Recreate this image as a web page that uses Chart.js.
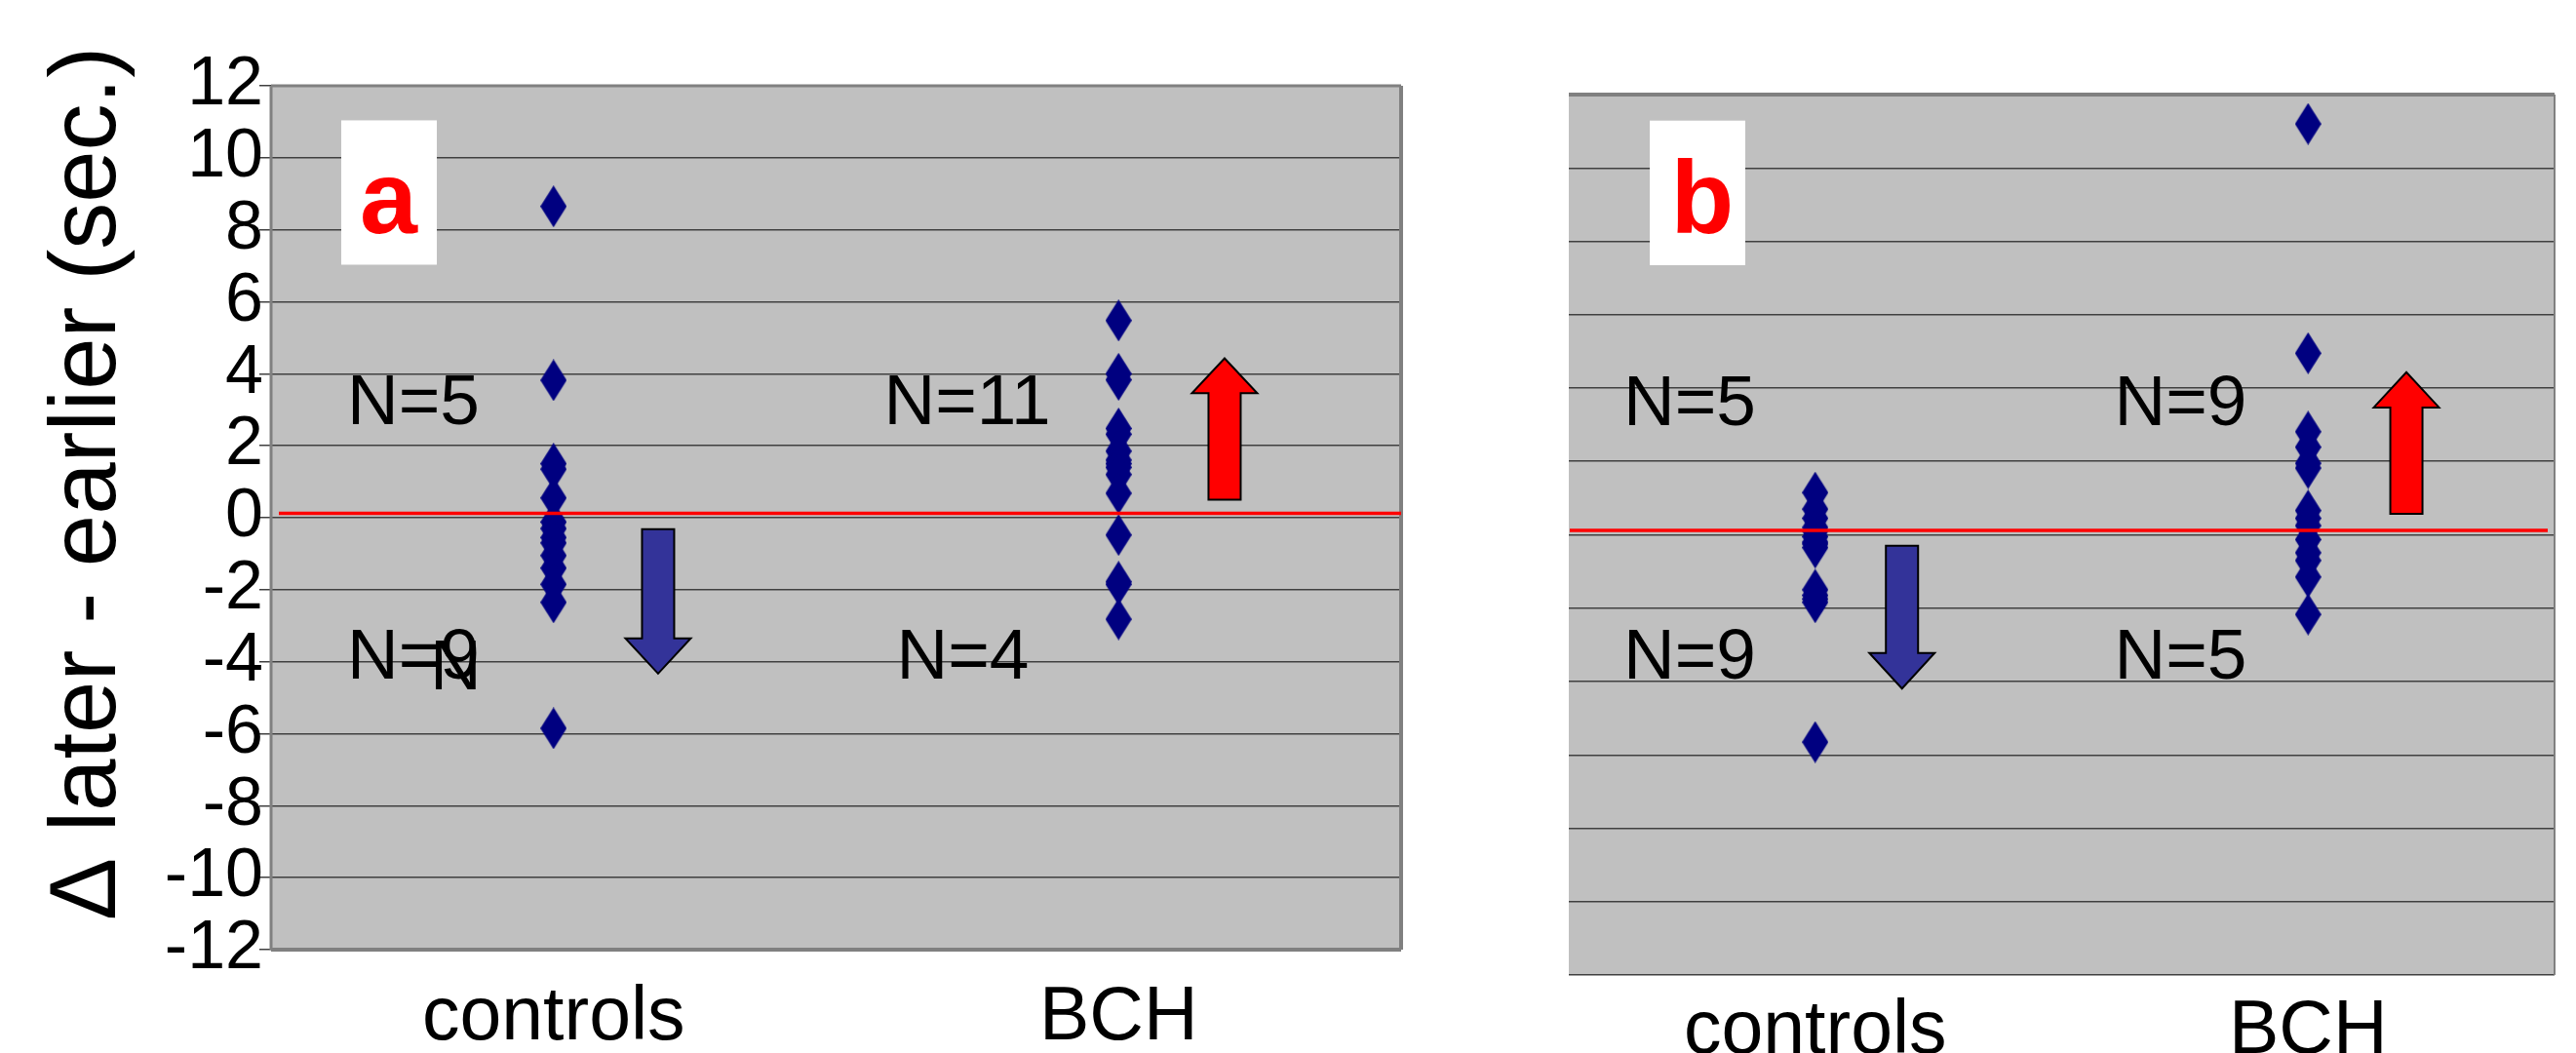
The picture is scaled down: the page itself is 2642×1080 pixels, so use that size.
<!DOCTYPE html>
<html>
<head>
<meta charset="utf-8">
<script src="https://cdn.jsdelivr.net/npm/chart.js@4.4.1/dist/chart.umd.min.js"></script>
<style>
  html, body { margin: 0; padding: 0; background: #ffffff; }
  body { width: 2642px; height: 1080px; position: relative; overflow: hidden; }
  canvas { position: absolute; top: 0; }
  #chartA { left: 0px; }
  #chartB { left: 1590px; }
</style>
</head>
<body>
<canvas id="chartA" width="1460" height="1080"></canvas>
<canvas id="chartB" width="1052" height="1080"></canvas>
<script>
// ---------------- data ----------------
const categories = ['controls', 'BCH'];
const yTickMin = -12;
const yTickMax = 12;
const yTickStep = 2;
const yAxisTitle = 'Δ later - earlier (sec.)';

// panel a
const aControls = [8.65, 3.82, 1.5, 1.35, 0.55, -0.12, -0.3, -0.55, -0.7, -1.05, -1.4, -1.85, -2.35, -5.85];
const aBCH = [5.48, 4.0, 3.83, 2.48, 2.32, 1.85, 1.6, 1.5, 1.4, 1.2, 0.68, -0.48, -1.78, -1.85, -2.82];
// panel b
const bControls = [1.15, 0.7, 0.45, 0.2, 0.1, -0.05, -0.2, -0.25, -0.35, -1.5, -1.65, -1.75, -1.84, -5.65];
const bBCH = [11.2, 4.95, 2.81, 2.39, 1.95, 1.82, 0.66, 0.45, 0.25, -0.13, -0.49, -0.7, -1.15, -2.17];

const refLineValue = 0.12;

// annotation texts
const aLabel = 'a';
const bLabel = 'b';
const aNotes = ['N=5', 'N=9', 'N', 'N=11', 'N=4'];
const bNotes = ['N=5', 'N=9', 'N=9', 'N=5'];

// ---------------- styles / layout ----------------
const FONT = '"Liberation Sans", Arial, Helvetica, sans-serif';
const PLOT_BG = '#c0c0c0';
const GRID = '#404040';
const POINT_COLOR = '#000080';

function makeDiamond(w, h, color) {
  const c = document.createElement('canvas');
  c.width = w; c.height = h;
  const g = c.getContext('2d');
  g.fillStyle = color;
  g.beginPath();
  g.moveTo(w / 2, 0); g.lineTo(w, h / 2); g.lineTo(w / 2, h); g.lineTo(0, h / 2);
  g.closePath(); g.fill();
  return c;
}
const diamond = makeDiamond(27, 43, POINT_COLOR);

function toPoints(cat, vals) { return vals.map(v => ({ x: cat, y: v })); }

const decorPlugin = {
  id: 'panelDecor',
  beforeDraw(chart, args, opts) {
    const a = chart.chartArea, ctx = chart.ctx;
    ctx.save();
    ctx.fillStyle = PLOT_BG;
    ctx.fillRect(a.left, a.top, a.right - a.left, a.bottom - a.top);
    ctx.restore();
  },
  afterDraw(chart, args, opts) {
    if (!opts.axisTitle) return;
    const ctx = chart.ctx, ys = chart.scales.y;
    const t = opts.axisTitle;
    ctx.save();
    ctx.translate(t.x, ys.getPixelForValue(t.yCenter));
    ctx.rotate(-Math.PI / 2);
    ctx.fillStyle = '#000000';
    ctx.font = t.size + 'px ' + FONT;
    ctx.textAlign = 'center';
    ctx.textBaseline = 'alphabetic';
    ctx.fillText(t.text, 0, 0);
    ctx.restore();
  },
  afterDatasetsDraw(chart, args, opts) {
    const a = chart.chartArea, ctx = chart.ctx;
    const xs = chart.scales.x, ys = chart.scales.y;
    ctx.save();
    // border
    ctx.strokeStyle = '#808080';
    (opts.borders || []).forEach(b => {
      ctx.lineWidth = b.w;
      ctx.beginPath();
      if (b.side === 'top') { ctx.moveTo(a.left, a.top); ctx.lineTo(a.right, a.top); }
      if (b.side === 'bottom') { ctx.moveTo(a.left, a.bottom); ctx.lineTo(a.right, a.bottom); }
      if (b.side === 'left') { ctx.moveTo(a.left, a.top); ctx.lineTo(a.left, a.bottom); }
      if (b.side === 'right') { ctx.moveTo(a.right, a.top); ctx.lineTo(a.right, a.bottom); }
      ctx.stroke();
    });
    // red reference line
    const ry = ys.getPixelForValue(opts.refValue);
    ctx.strokeStyle = '#ff0000';
    ctx.lineWidth = 3.5;
    ctx.beginPath();
    ctx.moveTo(a.left + opts.refInsetL, ry);
    ctx.lineTo(a.right - opts.refInsetR, ry);
    ctx.stroke();
    // arrows
    opts.arrows.forEach(ar => {
      const cx = xs.getPixelForDecimal(ar.fx);
      const y0 = ys.getPixelForValue(ar.from);
      const yb = ys.getPixelForValue(ar.base);
      const yt = ys.getPixelForValue(ar.tip);
      const sw = ar.shaft / 2, hw = ar.head / 2;
      ctx.beginPath();
      ctx.moveTo(cx - sw, y0);
      ctx.lineTo(cx + sw, y0);
      ctx.lineTo(cx + sw, yb);
      ctx.lineTo(cx + hw, yb);
      ctx.lineTo(cx, yt);
      ctx.lineTo(cx - hw, yb);
      ctx.lineTo(cx - sw, yb);
      ctx.closePath();
      ctx.fillStyle = ar.color;
      ctx.fill();
      ctx.strokeStyle = '#000000';
      ctx.lineWidth = 2;
      ctx.lineJoin = 'miter';
      ctx.stroke();
    });
    // letter box
    const lb = opts.letterBox;
    const bx0 = xs.getPixelForDecimal(lb.fx0), bx1 = xs.getPixelForDecimal(lb.fx1);
    const by0 = ys.getPixelForValue(lb.yTop), by1 = ys.getPixelForValue(lb.yBottom);
    ctx.fillStyle = '#ffffff';
    ctx.fillRect(bx0, by0, bx1 - bx0, by1 - by0);
    ctx.fillStyle = '#ff0000';
    ctx.font = 'bold 106px ' + FONT;
    ctx.textAlign = 'center';
    ctx.textBaseline = 'alphabetic';
    ctx.fillText(lb.text, xs.getPixelForDecimal(lb.fxText), ys.getPixelForValue(lb.yText));
    // N= notes
    ctx.fillStyle = '#000000';
    ctx.font = '73px ' + FONT;
    ctx.textAlign = 'left';
    opts.notes.forEach(n => {
      ctx.fillText(n.text, xs.getPixelForDecimal(n.fx), ys.getPixelForValue(n.y));
    });
    ctx.restore();
  }
};

function makeConfig(ctrlVals, bchVals, decor, withYAxis, yWidth, xHeight, xPad, padding) {
  const ds = (vals, cat) => ({
    data: toPoints(cat, vals),
    showLine: false,
    pointStyle: diamond,
    pointRadius: 13,
    pointHoverRadius: 13,
    backgroundColor: POINT_COLOR,
    borderColor: POINT_COLOR
  });
  return {
    type: 'line',
    data: {
      labels: categories,
      datasets: [ds(ctrlVals, categories[0]), ds(bchVals, categories[1])]
    },
    options: {
      responsive: false,
      animation: false,
      devicePixelRatio: 1,
      layout: { padding: padding },
      plugins: {
        legend: { display: false },
        tooltip: { enabled: false },
        panelDecor: decor
      },
      scales: {
        x: {
          type: 'category',
          offset: true,
          grid: { display: false, drawTicks: false },
          border: { display: false },
          ticks: { font: { family: FONT, size: 77 }, color: '#000000', padding: xPad, maxRotation: 0, autoSkip: false },
          afterFit: (s) => { s.height = xHeight; }
        },
        y: {
          type: 'linear',
          min: yTickMin,
          max: yTickMax,
          grid: { color: GRID, lineWidth: 1.5, drawTicks: withYAxis, tickLength: 12 },
          border: { display: false },
          ticks: {
            display: withYAxis,
            autoSkip: false,
            stepSize: yTickStep,
            font: { family: FONT, size: 70 },
            color: '#000000',
            padding: -4
          },
          title: { display: false },
          afterFit: (s) => { s.width = yWidth; }
        }
      }
    },
    plugins: [decorPlugin]
  };
}

const decorA = {
  refValue: refLineValue, refInsetL: 8, refInsetR: 0,
  axisTitle: { text: yAxisTitle, x: 118, yCenter: 0.95, size: 96 },
  borders: [{ side: 'left', w: 3 }, { side: 'top', w: 3 }, { side: 'right', w: 4 }, { side: 'bottom', w: 4 }],
  arrows: [
    { fx: 0.3425, from: -0.32, base: -3.35, tip: -4.33, shaft: 33, head: 67, color: '#333399' },
    { fx: 0.8438, from: 0.5, base: 3.46, tip: 4.43, shaft: 33, head: 67, color: '#ff0000' }
  ],
  letterBox: { text: aLabel, fx0: 0.0621, fx1: 0.1467, yTop: 11.04, yBottom: 7.03, fxText: 0.104, yText: 7.9 },
  notes: [
    { text: aNotes[0], fx: 0.0673, y: 2.60 },
    { text: aNotes[1], fx: 0.0673, y: -4.47 },
    { text: aNotes[2], fx: 0.1406, y: -4.77 },
    { text: aNotes[3], fx: 0.5423, y: 2.60 },
    { text: aNotes[4], fx: 0.5535, y: -4.47 }
  ]
};

const decorB = {
  refValue: refLineValue, refInsetL: 1, refInsetR: 7,
  borders: [{ side: 'top', w: 4 }, { side: 'right', w: 2 }],
  arrows: [
    { fx: 0.338, from: -0.3, base: -3.22, tip: -4.19, shaft: 33, head: 67, color: '#333399' },
    { fx: 0.8497, from: 0.57, base: 3.47, tip: 4.43, shaft: 33, head: 67, color: '#ff0000' }
  ],
  letterBox: { text: bLabel, fx0: 0.0821, fx1: 0.179, yTop: 11.29, yBottom: 7.35, fxText: 0.1355, yText: 8.23 },
  notes: [
    { text: bNotes[0], fx: 0.0554, y: 2.99 },
    { text: bNotes[1], fx: 0.0554, y: -3.92 },
    { text: bNotes[2], fx: 0.5534, y: 2.99 },
    { text: bNotes[3], fx: 0.5534, y: -3.92 }
  ]
};

new Chart(document.getElementById('chartA'),
  makeConfig(aControls, aBCH, decorA, true, 278, 106, 25, { top: 88, right: 23, bottom: 0, left: 0 }));
new Chart(document.getElementById('chartB'),
  makeConfig(bControls, bBCH, decorB, false, 19, 80, 13, { top: 97, right: 22, bottom: 0, left: 0 }));
</script>
</body>
</html>
